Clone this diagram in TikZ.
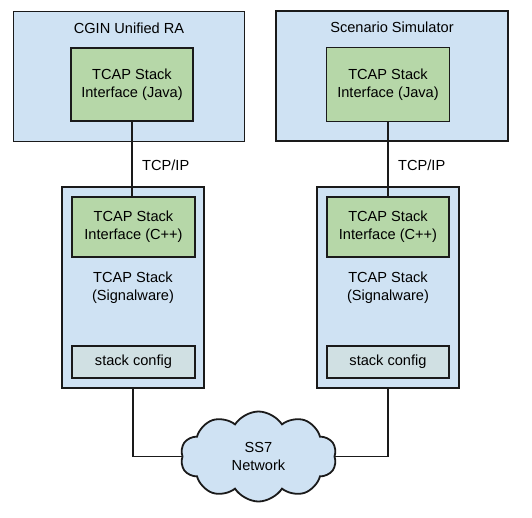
\documentclass[tikz,border=0pt]{standalone}
\usepackage{fontspec}
\setmainfont{Liberation Sans}
\usepackage{tikz}
\usetikzlibrary{shapes.symbols}
\definecolor{boxblue}{HTML}{CFE2F3}
\definecolor{boxgreen}{HTML}{B6D7A8}
\definecolor{boxgrey}{HTML}{D0E0E3}
\definecolor{edge}{HTML}{1A1A1A}
\tikzset{
	outerbox/.style={draw=edge, line width=1.8pt, fill=boxblue, inner sep=0pt},
	ifbox/.style={draw=edge, line width=1.8pt, fill=boxgreen, align=center, inner sep=0pt},
	cfgbox/.style={draw=edge, line width=1.8pt, fill=boxgrey, inner sep=0pt},
	wire/.style={draw=edge, line width=1.8pt},
	txt/.style={align=center, inner sep=0pt},
}

\begin{document}
\begin{tikzpicture}[x=1pt, y=-1pt, font=\fontsize{14.6}{17.7}\selectfont]
			%%%%% START %%%%%
			\useasboundingbox (0, 0) rectangle (532, 517);
			
			% top boxes
			\node[outerbox, minimum width=231, minimum height=130] (ra) at (129, 76.5) {};
			\node[txt] (raname) at (129, 28) {CGIN Unified RA};
			\node[ifbox, minimum width=122, minimum height=73] (javaL) at (132, 84.5) {TCAP Stack\\Interface (Java)};
			
			\node[outerbox, minimum width=232, minimum height=130] (sim) at (392, 76) {};
			\node[txt] (simname) at (392, 27.5) {Scenario Simulator};
			\node[ifbox, minimum width=123, minimum height=74] (javaR) at (388, 84.5) {TCAP Stack\\Interface (Java)};
			
			% stacks
			\node[outerbox, minimum width=142, minimum height=201] (stackL) at (133, 287.5) {};
			\node[ifbox, minimum width=123, minimum height=60] (cppL) at (133.5, 227) {TCAP Stack\\Interface (C++)};
			\node[txt] (swL) at (133, 288) {TCAP Stack\\(Signalware)};
			\node[cfgbox, minimum width=123, minimum height=32] (cfgL) at (133.5, 362) {stack config};
			
			\node[outerbox, minimum width=142, minimum height=201] (stackR) at (388, 287.5) {};
			\node[ifbox, minimum width=122, minimum height=60] (cppR) at (388, 227) {TCAP Stack\\Interface (C++)};
			\node[txt] (swR) at (388, 288) {TCAP Stack\\(Signalware)};
			\node[cfgbox, minimum width=122, minimum height=32] (cfgR) at (388, 362) {stack config};
			
			% network
			\node[cloud, cloud puffs=10, cloud puff arc=115, aspect=1.75, draw=edge, line width=1.8pt, fill=boxblue,
				minimum width=156, minimum height=90, inner sep=0pt, align=center] (ss7) at (258.5, 456.5) {SS7\\Network};
			
			% links
			\draw[wire] (javaL.south) -- node[right, pos=0.58, xshift=6pt] {TCP/IP} (javaL.south |- cppL.north);
			\draw[wire] (javaR.south) -- node[right, pos=0.58, xshift=6pt] {TCP/IP} (javaR.south |- cppR.north);
			\draw[wire] (stackL.south) |- (ss7.west);
			\draw[wire] (stackR.south) |- (ss7.east);
			%%%%% END %%%%%
\end{tikzpicture}
\end{document}
